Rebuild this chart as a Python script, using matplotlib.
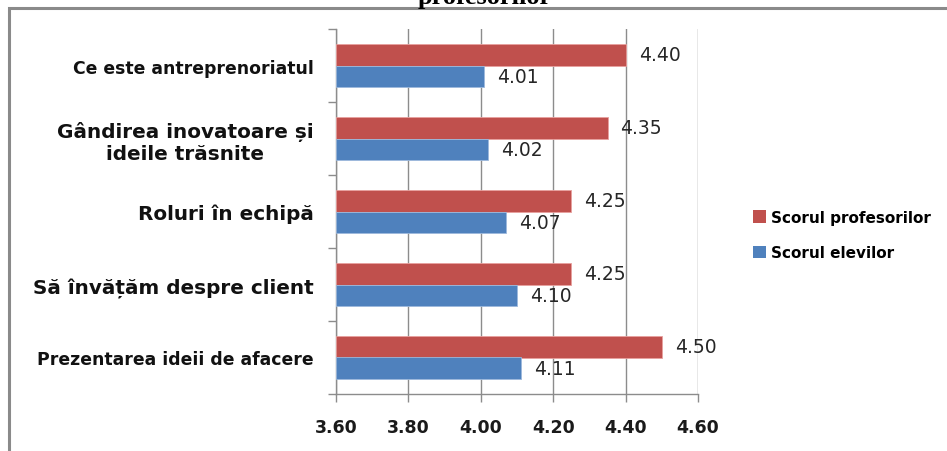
import matplotlib
matplotlib.use("Agg")
import matplotlib.pyplot as plt
import numpy as np
from matplotlib.patches import Patch, Rectangle
from matplotlib.ticker import FixedLocator

categories = [
    "Ce este antreprenoriatul",
    "Gândirea inovatoare și\nideile trăsnite",
    "Roluri în echipă",
    "Să învățăm despre client",
    "Prezentarea ideii de afacere",
]
label_sizes = [12.4, 14.4, 14.4, 14.4, 12.4]
scor_profesori = [4.40, 4.35, 4.25, 4.25, 4.50]
scor_elevi = [4.01, 4.02, 4.07, 4.10, 4.11]
xticks = [3.60, 3.80, 4.00, 4.20, 4.40, 4.60]
series_names = ["Scorul profesorilor", "Scorul elevilor"]

RED = "#C0504D"
BLUE = "#4F81BD"
GRID = "#8C8C8C"

W, H = 947, 452
fig = plt.figure(figsize=(W / 100, H / 100), dpi=100)
fig.patch.set_facecolor("white")

# outer chart frame (extends past the right and bottom edges)
fig.add_artist(Rectangle((8.5 / W, -0.05), 1.0, 1 - 9 / H + 0.05,
                         transform=fig.transFigure, fill=False,
                         edgecolor="#8A8A8A", linewidth=2.2))

fig.text(485 / W, 1 - 4 / H, "profesorilor", ha="center", va="baseline",
         family="Liberation Serif", weight="bold", fontsize=19)

ax = fig.add_axes([336 / W, 1 - 395 / H, (698 - 336) / W, (395 - 30) / H])

y = np.arange(len(categories))
h = 0.29
ax.barh(y - h / 2, [v - xticks[0] for v in scor_profesori], height=h,
        left=xticks[0], color=RED, edgecolor="#E8A09E", linewidth=0.6,
        zorder=3, label=series_names[0])
ax.barh(y + h / 2, [v - xticks[0] for v in scor_elevi], height=h,
        left=xticks[0], color=BLUE, edgecolor="#9DB9DC", linewidth=0.6,
        zorder=3, label=series_names[1])

for i in range(len(categories)):
    ax.annotate(f"{scor_profesori[i]:.2f}", (scor_profesori[i], y[i] - h / 2),
                xytext=(13, 0), textcoords="offset pixels", ha="left",
                va="center", fontsize=13.5, color="#262626", zorder=4)
    ax.annotate(f"{scor_elevi[i]:.2f}", (scor_elevi[i], y[i] + h / 2),
                xytext=(13, 0), textcoords="offset pixels", ha="left",
                va="center", fontsize=13.5, color="#262626", zorder=4)

ax.set_xlim(xticks[0], xticks[-1])
ax.set_ylim(len(categories) - 0.5, -0.5)
ax.set_xticks(xticks)
ax.set_xticklabels([f"{t:.2f}" for t in xticks], fontsize=12.5,
                   fontweight="bold", color="#1a1a1a")
ax.xaxis.grid(True, color=GRID, linewidth=1.0, zorder=0)
ax.tick_params(axis="x", direction="out", length=6, width=1.0,
               color=GRID, pad=11)

ax.set_yticks(y)
ax.set_yticklabels(categories)
for lbl, sz in zip(ax.get_yticklabels(), label_sizes):
    lbl.set_fontsize(sz)
    lbl.set_fontweight("bold")
    lbl.set_multialignment("center")
    lbl.set_color("#111111")
ax.tick_params(axis="y", which="major", length=0, pad=16)
ax.yaxis.set_minor_locator(FixedLocator(np.arange(-0.5, len(categories), 1.0)))
ax.tick_params(axis="y", which="minor", direction="out", length=6,
               width=1.0, color=GRID)

for side in ["top", "right"]:
    ax.spines[side].set_visible(False)
for side in ["left", "bottom"]:
    ax.spines[side].set_color(GRID)
    ax.spines[side].set_linewidth(1.0)

handles = [Patch(facecolor=RED), Patch(facecolor=BLUE)]
fig.legend(handles, series_names, loc="upper left",
           bbox_to_anchor=(739 / W, 1 - 197 / H), frameon=False,
           prop={"weight": "bold", "size": 11.0},
           handlelength=0.85, handleheight=0.85, handletextpad=0.35,
           labelspacing=1.35)

fig.savefig("out.png", dpi=100, facecolor="white")
